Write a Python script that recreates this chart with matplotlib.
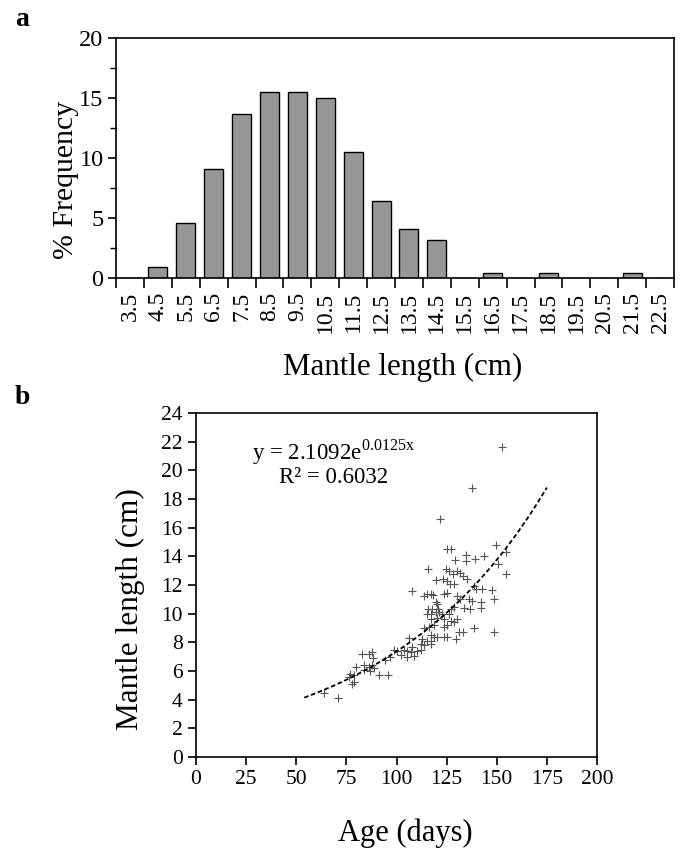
import matplotlib
matplotlib.use("Agg")
import matplotlib.pyplot as plt
import numpy as np

plt.rcParams['font.family'] = ['Liberation Serif', 'DejaVu Serif']
plt.rcParams['mathtext.fontset'] = 'custom'
plt.rcParams['mathtext.rm'] = 'Liberation Serif'

# ---- panel a data ----
size_classes = ["3.5", "4.5", "5.5", "6.5", "7.5", "8.5", "9.5", "10.5", "11.5", "12.5",
                "13.5", "14.5", "15.5", "16.5", "17.5", "18.5", "19.5", "20.5", "21.5", "22.5"]
freq_pct = [0, 0.9, 4.6, 9.1, 13.7, 15.5, 15.5, 15.0, 10.5, 6.4,
            4.1, 3.2, 0, 0.45, 0, 0.45, 0, 0, 0.45, 0]

# ---- panel b data ----
age_days = [152.8, 137.8, 121.7, 149.5, 125.3, 127.0, 143.7, 154.5, 134.5, 129.0,
            139.0, 134.5, 150.7, 115.8, 124.8, 126.2, 130.3, 131.7, 128.0, 154.5,
            133.3, 119.8, 123.2, 125.0, 135.3, 126.7, 128.7, 138.7, 139.8, 142.8,
            147.8, 107.8, 113.7, 115.3, 117.0, 118.3, 123.7, 125.3, 130.3, 131.7,
            136.0, 137.8, 142.0, 148.7, 119.5, 120.3, 115.7, 117.8, 120.7, 127.0,
            128.7, 133.7, 136.7, 142.0, 115.3, 117.0, 119.5, 121.2, 122.8, 126.2,
            117.0, 120.3, 123.7, 127.0, 128.7, 130.3, 113.7, 116.2, 118.7, 123.7,
            125.3, 138.7, 148.7, 131.2, 133.3, 117.0, 118.7, 120.3, 123.7, 125.3,
            112.8, 115.3, 117.0, 129.8, 106.2, 112.0, 113.7, 117.0, 107.8, 110.3,
            112.0, 98.7, 100.3, 103.7, 105.3, 107.0, 102.0, 105.3, 108.7, 94.5,
            96.7, 88.3, 82.8, 86.2, 87.8, 84.0, 86.2, 87.8, 79.8, 83.7,
            87.0, 88.7, 77.0, 78.7, 91.2, 95.8, 76.2, 78.7, 77.8, 63.7, 70.8]
mantle_cm = [21.6, 18.8, 16.6, 14.8, 14.5, 14.5, 14.05, 14.3, 14.1, 13.75,
             13.8, 13.7, 13.5, 13.1, 13.1, 13.0, 13.0, 12.85, 12.8, 12.8,
             12.6, 12.35, 12.4, 12.3, 12.4, 12.1, 12.05, 11.9, 11.7, 11.7,
             11.65, 11.6, 11.2, 11.4, 11.4, 11.3, 11.4, 11.45, 11.2, 11.0,
             11.0, 10.9, 10.8, 11.0, 10.8, 10.65, 10.3, 10.3, 10.35, 10.3,
             10.5, 10.4, 10.35, 10.4, 10.0, 10.0, 10.1, 10.1, 10.0, 10.0,
             9.6, 9.7, 9.6, 9.5, 9.4, 9.6, 9.0, 9.1, 9.2, 9.1,
             9.2, 9.0, 8.75, 8.75, 8.75, 8.5, 8.4, 8.4, 8.4, 8.4,
             8.25, 8.1, 8.1, 8.2, 8.3, 7.9, 7.8, 7.9, 7.7, 7.4,
             7.5, 7.5, 7.4, 7.5, 7.4, 7.3, 7.1, 7.0, 7.05, 6.8,
             7.0, 6.9, 7.2, 7.2, 7.35, 6.45, 6.3, 6.4, 6.3, 6.1,
             6.0, 6.2, 5.8, 5.7, 5.7, 5.7, 5.6, 5.25, 5.1, 4.5, 4.1]

fit_a = 2.1092
fit_b = 0.0125
fit_x_range = [54, 175]

fig = plt.figure(figsize=(6.86, 8.57), dpi=100)

# ---------------- panel a ----------------
ax1 = fig.add_axes([116/686, 1-278/857, (674-116)/686, (278-38)/857])
idx = np.arange(len(size_classes))
ax1.bar(idx, freq_pct, width=0.68, color='#979797', edgecolor='black', linewidth=1.0)
ax1.set_xlim(-0.5, len(size_classes) - 0.5)
ax1.set_ylim(0, 20)
ax1.set_xticks(idx)
ax1.set_xticklabels(size_classes, rotation=90, fontsize=17)
ax1.tick_params(axis='x', which='major', length=0, pad=10)
ax1.set_xticks(np.arange(len(size_classes) + 1) - 0.5, minor=True)
ax1.tick_params(axis='x', which='minor', length=7, width=1.2, direction='out')
ax1.set_yticks([0, 5, 10, 15, 20])
ax1.set_yticks([2.5, 7.5, 12.5, 17.5], minor=True)
ax1.tick_params(axis='y', which='major', labelsize=17.5, length=6, width=1.2, direction='out', pad=3)
ax1.tick_params(axis='y', which='minor', length=4, width=1.0, direction='out')
ax1.set_ylabel('% Frequency', fontsize=21.5, labelpad=0)
ax1.yaxis.label.set_y(0.41)
ax1.set_xlabel('Mantle length (cm)', fontsize=22.3, labelpad=14)
ax1.xaxis.label.set_x(0.513)
for s in ax1.spines.values():
    s.set_linewidth(1.2)
fig.text(15/686, 1-20/857, 'a', fontsize=20, fontweight='bold', va='center', ha='left')

# ---------------- panel b ----------------
ax2 = fig.add_axes([196/686, 1-757/857, (597-196)/686, (757-413)/857])
ax2.scatter(age_days, mantle_cm, marker='+', s=30, color='#555555', linewidths=0.8)
xf = np.linspace(fit_x_range[0], fit_x_range[1], 200)
ax2.plot(xf, fit_a * np.exp(fit_b * xf), linestyle=(0, (2.5, 1.5)), color='black', linewidth=1.3)
ax2.set_xlim(0, 200)
ax2.set_ylim(0, 24)
ax2.set_xticks(np.arange(0, 201, 25))
ax2.set_yticks(np.arange(0, 25, 2))
ax2.tick_params(axis='both', labelsize=15.5, length=6, width=1.2, direction='out')
ax2.set_ylabel('Mantle length (cm)', fontsize=22.5, labelpad=12)
ax2.yaxis.label.set_y(0.43)
ax2.set_xlabel('Age (days)', fontsize=22, labelpad=21)
ax2.xaxis.label.set_x(0.521)
for s in ax2.spines.values():
    s.set_linewidth(1.2)
ax2.text(68.5, 21.3, r'y = 2.1092e$^{\mathregular{0.0125x}}$', fontsize=16.5, ha='center', va='center')
ax2.text(68.5, 19.5, 'R² = 0.6032', fontsize=16.5, ha='center', va='center')
fig.text(15/686, 1-398/857, 'b', fontsize=20, fontweight='bold', va='center', ha='left')

fig.savefig('out.png', dpi=100)
